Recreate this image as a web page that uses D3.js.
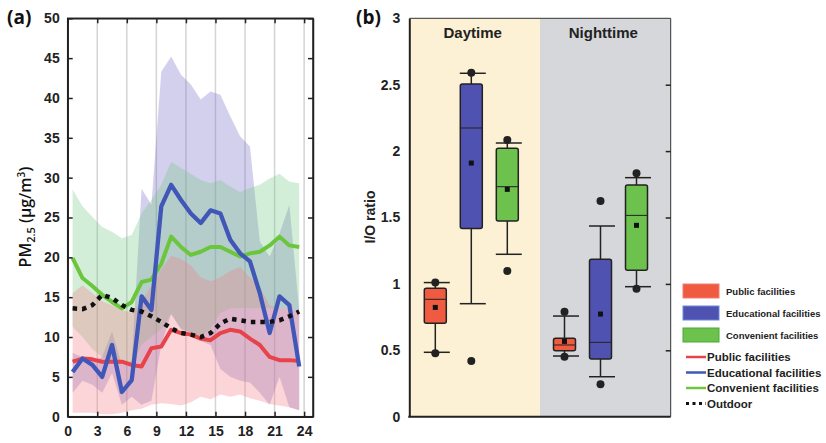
<!DOCTYPE html>
<html><head><meta charset="utf-8">
<script src="https://cdn.jsdelivr.net/npm/d3@7"></script>
<style>
body{margin:0;background:#fff;}
svg{display:block;}
text{font-family:"Liberation Sans",Arial,sans-serif;}
</style></head>
<body>
<svg id="chart" width="826" height="443"></svg>
<script>
// ---------- Panel (a) data ----------
const hours = [0.5,1.5,2.5,3.5,4.5,5.5,6.5,7.5,8.5,9.5,10.5,11.5,12.5,13.5,14.5,15.5,16.5,17.5,18.5,19.5,20.5,21.5,22.5,23.5];
const xTicksA = [0,3,6,9,12,15,18,21,24];
const yTicksA = [0,5,10,15,20,25,30,35,40,45,50];

const publicMean = [6.9,7.3,7.2,6.9,6.9,6.9,6.5,6.3,8.6,8.8,10.9,10.5,10.3,9.8,9.6,10.5,10.9,10.7,9.8,9.0,7.5,7.1,7.1,7.0];
const publicLow  = [0.5,0.5,0.5,0.3,0.3,0.5,0.8,1.0,1.5,1.7,1.6,1.4,1.8,2.5,2.2,2.8,2.5,2.8,2.3,2.0,1.6,1.4,1.2,0.8];
const publicHigh = [15.5,16.5,15.5,14.5,14.0,13.4,13.0,14.5,16.5,18.5,20.2,19.8,19.0,17.5,17.0,17.5,18.3,18.8,17.5,16.3,14.0,13.6,13.6,13.3];

const eduMean = [5.6,7.3,6.5,5.0,9.0,3.1,4.6,15.1,13.4,26.4,29.1,27.2,25.5,24.3,25.9,25.5,22.2,20.5,19.5,15.5,10.5,15.1,14.0,6.3];
const eduLow  = [3.0,4.5,4.0,3.0,5.5,1.5,2.5,1.5,2.0,9.0,12.9,11.0,10.5,9.5,9.0,6.0,5.0,4.5,4.3,3.0,1.5,5.0,1.2,0.8];
const eduHigh = [8.0,7.5,7.0,7.5,10.7,6.5,7.0,28.6,26.6,43.3,45.2,42.9,41.7,39.8,40.8,40.4,37.7,35.2,33.9,22.0,20.1,23.0,26.6,13.4];

const convMean = [19.9,17.4,16.4,15.3,14.4,13.6,14.4,16.9,17.2,19.2,22.6,21.3,20.3,20.7,21.3,21.3,20.7,20.1,20.5,20.7,21.5,22.6,21.5,21.3];
const convLow  = [11.3,10.0,8.5,7.5,7.0,6.5,6.5,9.0,10.0,11.0,12.9,11.0,10.5,10.0,11.0,13.0,13.6,13.6,13.6,13.6,13.6,13.6,13.6,13.4];
const convHigh = [28.5,26.4,25.1,23.8,23.2,22.4,22.8,25.5,27.2,29.1,32.0,31.2,30.5,29.7,29.3,29.7,28.9,28.2,28.7,29.1,29.9,30.5,29.5,29.3];

const outdoor = [13.6,13.5,14.0,15.3,14.9,14.0,13.4,13.2,12.6,11.9,11.1,10.5,10.3,10.0,10.5,11.7,12.3,12.1,11.9,11.9,11.9,12.1,12.6,13.2];

// ---------- Panel (b) data ----------
const periods = ["Daytime","Nighttime"];
const facilities = ["Public facilities","Educational facilities","Convenient facilities"];
const yTicksB = [0,0.5,1,1.5,2,2.5,3];
const yTickLabelsB = ["0","0.5","1","1.5","2","2.5","3"];
// per period, per facility: [capLow, q1, median, q3, capHigh, mean, dotLow, dotHigh]
const dayPublic  = [0.485,0.703,0.884,0.967,1.01,0.823,0.477,1.01];
const dayEdu     = [0.851,1.418,2.174,2.505,2.586,1.91,0.419,2.59];
const dayConv    = [1.223,1.474,1.732,2.021,2.061,1.712,1.097,2.084];
const nightPublic= [0.457,0.497,0.54,0.59,0.758,0.567,0.452,0.791];
const nightEdu   = [0.301,0.434,0.56,1.185,1.436,0.773,0.244,1.624];
const nightConv  = [0.979,1.102,1.516,1.745,1.80,1.441,0.964,1.833];

const lineColors = {pub:"#e8424a", edu:"#4157b8", conv:"#6cc63c"};
const boxColors = ["#ef5a40","#5052b2","#6cc24c"];

const svg = d3.select("#chart");

// ================= Panel (a) =================
const xA = d3.scaleLinear().domain([0,24.9]).range([67.7,313]);
const yA = d3.scaleLinear().domain([0,50]).range([416.7,18.3]);
const gA = svg.append("g");

// grid
gA.selectAll("line.grid").data(xTicksA.slice(1)).join("line")
  .attr("x1",d=>xA(d)).attr("x2",d=>xA(d)).attr("y1",yA(50)).attr("y2",yA(0))
  .attr("stroke","#d4d4d4").attr("stroke-width",1.5);

const area = (lo,hi)=>d3.area().x((d,i)=>xA(hours[i])).y0((d,i)=>yA(lo[i])).y1((d,i)=>yA(hi[i]))(hours);
gA.append("path").attr("d",area(eduLow,eduHigh)).attr("fill","#7a70c8").attr("fill-opacity",0.33);
gA.append("path").attr("d",area(convLow,convHigh)).attr("fill","#6cc87e").attr("fill-opacity",0.3);
gA.append("path").attr("d",area(publicLow,publicHigh)).attr("fill","#f47f86").attr("fill-opacity",0.33);

const line = (vals)=>d3.line().x((d,i)=>xA(hours[i])).y((d,i)=>yA(vals[i]))(hours);
gA.append("path").attr("d",line(publicMean)).attr("fill","none").attr("stroke",lineColors.pub).attr("stroke-width",4).attr("stroke-linejoin","round");
gA.append("path").attr("d",line(convMean)).attr("fill","none").attr("stroke",lineColors.conv).attr("stroke-width",4).attr("stroke-linejoin","round");
gA.append("path").attr("d",line(eduMean)).attr("fill","none").attr("stroke",lineColors.edu).attr("stroke-width",4.3).attr("stroke-linejoin","round");
gA.append("path").attr("d",line(outdoor)).attr("fill","none").attr("stroke","#111").attr("stroke-width",4.5).attr("stroke-dasharray","4.5,5");

// frame & axes
gA.append("rect").attr("x",xA(0)).attr("y",yA(50)).attr("width",xA(24.9)-xA(0)).attr("height",yA(0)-yA(50))
  .attr("fill","none").attr("stroke","#222").attr("stroke-width",1.5);
const axB = gA.append("g").attr("transform",`translate(0,${yA(0)})`)
  .call(d3.axisBottom(xA).tickValues(xTicksA).tickSizeInner(-5).tickSizeOuter(0).tickPadding(9));
const axT = gA.append("g").attr("transform",`translate(0,${yA(50)})`)
  .call(d3.axisTop(xA).tickValues(xTicksA).tickSizeInner(-5).tickSizeOuter(0).tickFormat(""));
const axL = gA.append("g").attr("transform",`translate(${xA(0)},0)`)
  .call(d3.axisLeft(yA).tickValues(yTicksA).tickSizeInner(-5).tickSizeOuter(0).tickPadding(8));
const axR = gA.append("g").attr("transform",`translate(${xA(24.9)},0)`)
  .call(d3.axisRight(yA).tickValues(yTicksA).tickSizeInner(-5).tickSizeOuter(0).tickFormat(""));
[axB,axT,axL,axR].forEach(a=>{
  a.select(".domain").attr("stroke","#222").attr("stroke-width",1.5);
  a.selectAll(".tick line").attr("stroke","#222").attr("stroke-width",1.5);
  a.selectAll("text").attr("font-size",14).attr("font-weight","bold").attr("fill","#222")
   .style("font-family","'Liberation Sans',Arial,sans-serif");
});

// y label
const yl = gA.append("text").attr("transform","translate(31,217) rotate(-90)").attr("text-anchor","middle")
  .style("font-family","'Open Sans','Noto Sans',sans-serif").attr("font-size",16).attr("font-weight",600).attr("fill","#111");
yl.append("tspan").text("PM");
yl.append("tspan").text("2.5").attr("font-size",11).attr("dy",4);
yl.append("tspan").text(" (μg/m").attr("dy",-4);
yl.append("tspan").text("3").attr("font-size",10).attr("dy",-6);
yl.append("tspan").text(")").attr("dy",6);

svg.append("text").attr("x",7).attr("y",24).text("(a)").attr("font-size",19).attr("font-weight","bold").attr("fill","#111")
  .style("font-family","'Open Sans','Noto Sans',sans-serif");

// ================= Panel (b) =================
const xB = d3.scaleBand().domain(periods).range([409.3,670.7]).padding(0);
const yB = d3.scaleLinear().domain([0,3]).range([416.7,18.3]);
const gB = svg.append("g");
const bgColors = ["#fcf1d4","#d6d7da"];
gB.selectAll("rect.bg").data(periods).join("rect")
  .attr("x",d=>xB(d)).attr("y",yB(3)).attr("width",xB.bandwidth()).attr("height",yB(0)-yB(3))
  .attr("fill",(d,i)=>bgColors[i]);
gB.selectAll("text.period").data(periods).join("text")
  .attr("x",d=>xB(d)+xB.bandwidth()/2-2).attr("y",38).attr("text-anchor","middle")
  .attr("font-size",15).attr("font-weight","bold").attr("fill","#222").text(d=>d);

const boxData = [[dayPublic,dayEdu,dayConv],[nightPublic,nightEdu,nightConv]];
const inner = d3.scalePoint().domain(facilities).range([26,98]);
const bw = 22, cw = 26;
periods.forEach((p,pi)=>{
  facilities.forEach((f,fi)=>{
    const v = boxData[pi][fi];
    const cx = xB(p)+inner(f)-(pi===1?1.5:0);
    const g = gB.append("g");
    g.append("line").attr("x1",cx).attr("x2",cx).attr("y1",yB(v[0])).attr("y2",yB(v[4])).attr("stroke","#222").attr("stroke-width",1.5);
    [v[0],v[4]].forEach(c=>g.append("line").attr("x1",cx-cw/2+1.5).attr("x2",cx+cw/2+1.5).attr("y1",yB(c)).attr("y2",yB(c)).attr("stroke","#222").attr("stroke-width",1.5));
    g.append("rect").attr("x",cx-bw/2).attr("y",yB(v[3])).attr("width",bw).attr("height",yB(v[1])-yB(v[3]))
      .attr("rx",2).attr("fill",boxColors[fi]).attr("stroke","#222").attr("stroke-width",1.5);
    g.append("line").attr("x1",cx-bw/2).attr("x2",cx+bw/2).attr("y1",yB(v[2])).attr("y2",yB(v[2])).attr("stroke","#222").attr("stroke-width",1);
    g.append("rect").attr("x",cx-2.5).attr("y",yB(v[5])-2.5).attr("width",5).attr("height",5).attr("fill","#111");
    [v[6],v[7]].forEach(c=>g.append("circle").attr("cx",cx).attr("cy",yB(c)).attr("r",4).attr("fill","#222"));
  });
});

// frame
gB.append("line").attr("x1",409.3).attr("x2",670.7).attr("y1",yB(3)).attr("y2",yB(3)).attr("stroke","#333").attr("stroke-width",1);
gB.append("line").attr("x1",670.7).attr("x2",670.7).attr("y1",yB(3)).attr("y2",yB(0)).attr("stroke","#333").attr("stroke-width",1);
const axRB = gB.append("g").attr("transform","translate(670.7,0)")
  .call(d3.axisRight(yB).tickValues([0.5,1,1.5,2,2.5]).tickSizeInner(-5).tickSizeOuter(0).tickFormat(""));
axRB.select(".domain").remove();
axRB.selectAll(".tick line").attr("stroke","#222").attr("stroke-width",1.5);
const axLB = gB.append("g").attr("transform","translate(409.3,0)")
  .call(d3.axisLeft(yB).tickValues(yTicksB).tickFormat((d,i)=>yTickLabelsB[i]).tickSize(0).tickPadding(9));
axLB.select(".domain").attr("stroke","#222").attr("stroke-width",2);
axLB.selectAll("text").attr("font-size",14).attr("font-weight","bold").attr("fill","#222");
gB.append("line").attr("x1",408.3).attr("x2",670.7).attr("y1",yB(0)).attr("y2",yB(0)).attr("stroke","#222").attr("stroke-width",2);

svg.append("text").attr("transform","translate(375,217) rotate(-90)").attr("text-anchor","middle")
  .attr("font-size",14).attr("font-weight","bold").attr("fill","#222").text("I/O ratio");
svg.append("text").attr("x",356).attr("y",24).text("(b)").attr("font-size",19).attr("font-weight","bold").attr("fill","#111")
  .style("font-family","'Open Sans','Noto Sans',sans-serif");

// ================= Legend =================
const lg = svg.append("g");
const boxStroke = ["#f08070","#6a8ad8","#4aa83a"];
facilities.forEach((f,i)=>{
  const y0 = 284 + i*22;
  lg.append("rect").attr("x",683).attr("y",y0).attr("width",36).attr("height",14)
    .attr("fill",boxColors[i]).attr("stroke",boxStroke[i]).attr("stroke-width",1);
  lg.append("text").attr("x",726).attr("y",y0+11).attr("font-size",9.5).attr("font-weight","bold").attr("fill","#222").text(f);
});
const lineItems = facilities.concat(["Outdoor"]);
const lcol = [lineColors.pub,lineColors.edu,lineColors.conv,"#111"];
lineItems.forEach((f,i)=>{
  const y0 = 361 + i*15.5;
  const ln = lg.append("line").attr("x1",686).attr("x2",706).attr("y1",y0-4).attr("y2",y0-4)
    .attr("stroke",lcol[i]).attr("stroke-width",i===3?3:2.5);
  if(i===3) ln.attr("stroke-dasharray","3,3.5");
  lg.append("text").attr("x",707).attr("y",y0).attr("font-size",11.5).attr("font-weight","bold").attr("fill","#222").text(f);
});
</script>
</body></html>
